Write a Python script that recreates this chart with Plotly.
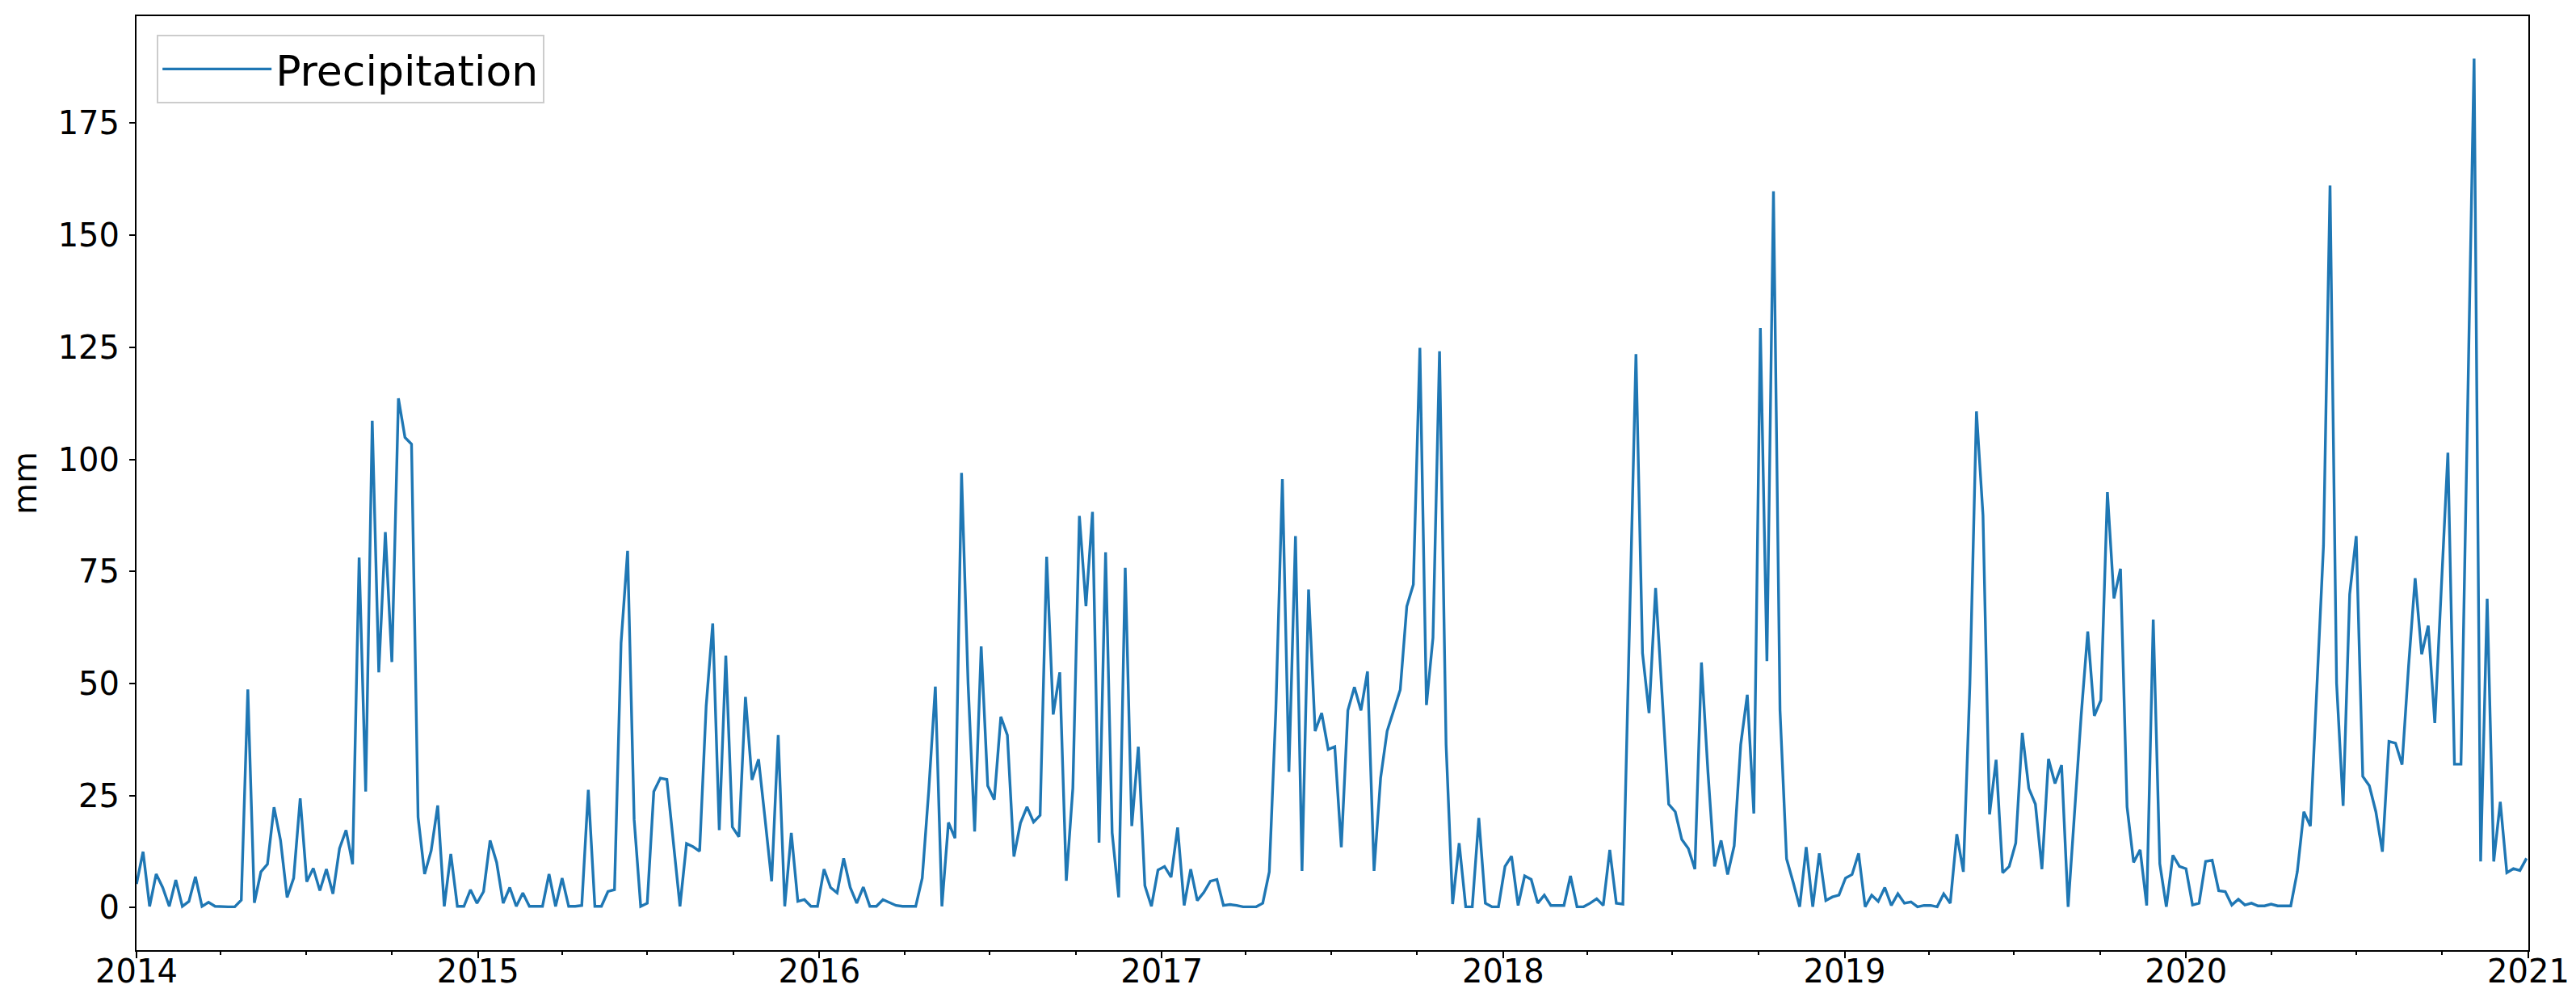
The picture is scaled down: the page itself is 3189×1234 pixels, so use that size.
import pandas as pd
import plotly.graph_objects as go

# Weekly precipitation (mm), one list per calendar year of weeks
p2014 = [5.3, 12.5, 0.3, 7.5, 4.5, 0.3, 6.2, 0.3, 1.4, 6.9, 0.3, 1.2, 0.3, 0.2, 0.2, 0.2,
         1.7, 48.7, 1.1, 8.0, 9.7, 22.4, 15.0, 2.3, 6.6, 24.4, 5.8, 8.8, 3.8, 8.6, 3.1, 13.2,
         17.3, 9.7, 78.1, 25.9, 108.6, 52.5, 83.8, 54.8, 113.6, 104.9, 103.4, 20.2, 7.5, 12.7,
         22.8, 0.3, 12.0, 0.3, 0.3, 4.0, 1.0]
p2015 = [3.6, 15.0, 10.1, 1.0, 4.5, 0.3, 3.3, 0.3, 0.3, 0.3, 7.5, 0.3, 6.6, 0.3, 0.3, 0.5,
         26.3, 0.3, 0.3, 3.6, 4.0, 59.0, 79.6, 19.7, 0.3, 1.0, 25.9, 28.9, 28.6, 14.5, 0.3,
         14.3, 13.6, 12.6, 45.0, 63.4, 17.3, 56.2, 18.0, 15.8, 47.0, 28.5, 33.1, 19.7, 5.9,
         38.5, 0.3, 16.7, 1.4, 1.8, 0.3, 0.3]
p2016 = [8.6, 4.5, 3.3, 11.0, 4.5, 1.0, 4.6, 0.3, 0.3, 1.8, 1.2, 0.5, 0.3, 0.3, 0.3, 6.6,
         26.3, 49.3, 0.3, 19.0, 15.5, 97.0, 50.0, 17.0, 58.3, 27.2, 24.1, 42.6, 38.5, 11.4,
         18.9, 22.5, 19.1, 20.6, 78.3, 43.1, 52.5, 6.0, 26.7, 87.4, 67.3, 88.3, 14.5, 79.3,
         16.7, 2.3, 75.8, 18.2, 35.9, 4.9, 0.3]
p2017 = [8.4, 9.2, 6.8, 17.9, 0.5, 8.6, 1.6, 3.4, 5.9, 6.3, 0.5, 0.7, 0.5, 0.2, 0.2, 0.2,
         1.0, 8.0, 44.0, 95.6, 30.3, 82.9, 8.2, 71.0, 39.4, 43.4, 35.3, 35.9, 13.5, 44.0,
         49.2, 44.0, 52.7, 8.2, 28.9, 39.4, 44.0, 48.6, 67.2, 72.1, 124.9, 45.2, 60.2, 124.1,
         36.4, 0.8, 14.4, 0.2, 0.2, 20.0, 1.0, 0.2, 0.2]
p2018 = [9.2, 11.5, 0.5, 7.1, 6.3, 1.0, 2.8, 0.5, 0.5, 0.5, 7.1, 0.2, 0.2, 1.0, 2.0, 0.5,
         12.9, 1.0, 0.8, 62.0, 123.5, 56.8, 43.4, 71.3, 47.0, 23.1, 21.4, 15.2, 13.2, 8.6,
         54.7, 30.1, 9.2, 15.0, 7.4, 13.8, 36.4, 47.5, 21.0, 129.3, 55.0, 159.8, 44.0, 10.9,
         5.7, 0.2, 13.5, 0.2, 12.1, 1.6, 2.4, 2.8]
p2019 = [6.6, 7.4, 12.1, 0.2, 2.8, 1.4, 4.5, 0.5, 3.1, 1.0, 1.3, 0.2, 0.5, 0.5, 0.2, 3.1,
         1.0, 16.4, 8.0, 50.0, 110.7, 87.5, 20.8, 33.0, 7.8, 9.2, 14.4, 39.0, 26.6, 23.1, 8.6,
         33.2, 27.7, 31.8, 0.2, 22.0, 43.0, 61.6, 42.8, 46.3, 92.7, 69.0, 75.6, 22.5, 10.1,
         12.9, 0.5, 64.3, 9.8, 0.2, 11.7, 9.2]
p2020 = [8.7, 0.6, 1.0, 10.3, 10.6, 3.8, 3.6, 0.6, 1.9, 0.6, 1.0, 0.4, 0.4, 0.8, 0.4, 0.4,
         0.4, 8.0, 21.4, 18.2, 50.0, 80.7, 161.1, 50.1, 22.7, 69.9, 82.9, 29.3, 27.2, 21.4,
         12.5, 37.1, 36.7, 31.9, 54.0, 73.5, 56.5, 62.9, 41.2, 72.0, 101.5, 32.0, 32.0, 110.0,
         189.4, 10.3, 68.9, 10.3, 23.6, 7.8, 8.7, 8.3, 11.0]

precip = p2014 + p2015 + p2016 + p2017 + p2018 + p2019 + p2020
dates = pd.date_range("2014-01-01", periods=len(precip), freq="7D")

year_ticks = [f"{y}-01-01" for y in range(2014, 2022)]
year_labels = [str(y) for y in range(2014, 2022)]
y_ticks = [0, 25, 50, 75, 100, 125, 150, 175]

FONT = "DejaVu Sans"

fig = go.Figure()
fig.add_trace(go.Scatter(
    x=dates, y=precip, mode="lines", name="Precipitation",
    line=dict(color="#1f77b4", width=3.4),
))

ymax = max(precip)
fig.update_layout(
    width=3189, height=1234,
    margin=dict(l=161, r=67, t=12, b=66, autoexpand=False),
    paper_bgcolor="white", plot_bgcolor="white",
    font=dict(family=FONT, size=40, color="black"),
    showlegend=True,
    legend=dict(
        x=0.0085, y=0.98, xanchor="left", yanchor="top",
        font=dict(size=52, family=FONT, color="black"),
        bgcolor="rgba(255,255,255,0.8)", bordercolor="#cccccc", borderwidth=2,
        itemwidth=135, entrywidth=365, entrywidthmode="pixels",
    ),
    xaxis=dict(
        type="date",
        range=["2014-01-01", "2021-01-01"],
        tickmode="array", tickvals=year_ticks, ticktext=year_labels,
        ticks="outside", ticklen=8, tickwidth=2, tickcolor="black",
        showline=True, linecolor="black", linewidth=2, mirror=True,
        showgrid=False, zeroline=False,
        tickfont=dict(size=40, family=FONT, color="black"),
        ticklabelstandoff=-18,
        minor=dict(dtick="M3", tick0="2014-01-01", ticks="outside", ticklen=4,
                   tickwidth=2, tickcolor="black", showgrid=False),
    ),
    yaxis=dict(
        range=[-0.05 * ymax, 1.05 * ymax],
        tickmode="array", tickvals=y_ticks,
        ticks="outside", ticklen=7, tickwidth=2, tickcolor="black",
        showline=True, linecolor="black", linewidth=2, mirror=True,
        showgrid=False, zeroline=False,
        tickfont=dict(size=40, family=FONT, color="black"),
        ticklabelstandoff=4,
        title=dict(text="mm", font=dict(size=40, family=FONT, color="black"), standoff=14),
    ),
)

fig.write_html("out.html")
